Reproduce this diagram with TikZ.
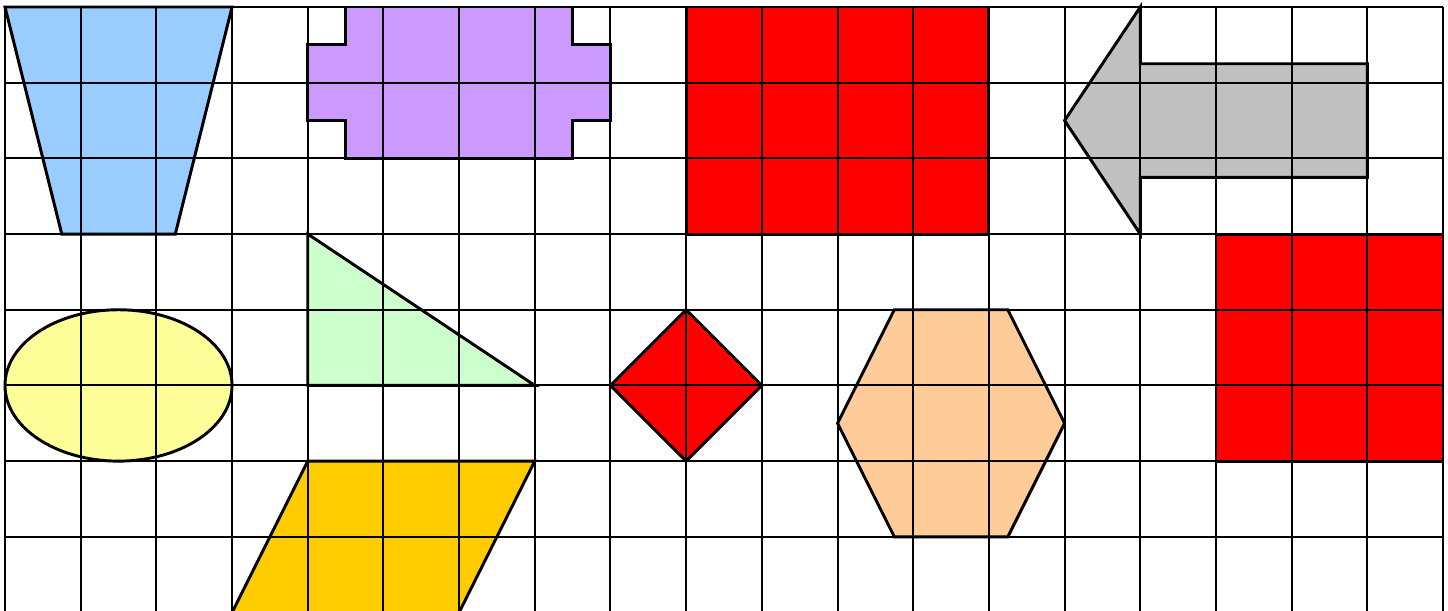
\documentclass[tikz,border=0pt]{standalone}
\begin{document}
\begin{tikzpicture}[x=1cm,y=-1cm,
  gridline/.style={line width=0.75pt,black},
  outl/.style={line width=1.1pt,black,line join=miter}]
\definecolor{cblue}{HTML}{99CCFF}
\definecolor{cpurple}{HTML}{CC99FF}
\definecolor{cgray}{HTML}{C0C0C0}
\definecolor{cyellow}{HTML}{FFFF99}
\definecolor{cgreen}{HTML}{CCFFCC}
\definecolor{corange}{HTML}{FFCC99}
\definecolor{cgold}{HTML}{FFCC00}
\useasboundingbox (-0.066,-0.0925) rectangle (19.066,7.98);
\clip (-0.066,-0.0925) rectangle (19.066,7.98);
\fill[white] (-0.066,-0.0925) rectangle (19.066,7.98);
% shape paths
\def\trap{(0,0) -- (3,0) -- (2.25,3) -- (0.75,3) -- cycle}
\def\cross{(4.5,0) -- (7.5,0) -- (7.5,0.5) -- (8,0.5) -- (8,1.5) -- (7.5,1.5) -- (7.5,2) -- (4.5,2) -- (4.5,1.5) -- (4,1.5) -- (4,0.5) -- (4.5,0.5) -- cycle}
\def\rectA{(9,0) rectangle (13,3)}
\def\arrowL{(14,1.5) -- (15,0) -- (15,0.75) -- (18,0.75) -- (18,2.25) -- (15,2.25) -- (15,3) -- cycle}
\def\rectB{(16,3) rectangle (19,6)}
\def\ell{(1.5,5) ellipse [x radius=1.5, y radius=1]}
\def\tri{(4,3) -- (4,5) -- (7,5) -- cycle}
\def\diam{(9,4) -- (10,5) -- (9,6) -- (8,5) -- cycle}
\def\hex{(11.75,4) -- (13.25,4) -- (14,5.5) -- (13.25,7) -- (11.75,7) -- (11,5.5) -- cycle}
\def\para{(4,6) -- (7,6) -- (6,8) -- (3,8) -- cycle}
% fills
\fill[cblue] \trap;
\fill[cpurple] \cross;
\fill[red] \rectA;
\fill[cgray] \arrowL;
\fill[red] \rectB;
\fill[cyellow] \ell;
\fill[cgreen] \tri;
\fill[red] \diam;
\fill[corange] \hex;
\fill[cgold] \para;
% grid
\foreach \i in {0,...,19} \draw[gridline] (\i,0) -- (\i,8.2);
\foreach \j in {0,...,7} \draw[gridline] (0,\j) -- (19,\j);
% outlines
\draw[outl] \trap;
\draw[outl] \cross;
\draw[outl] \rectA;
\draw[outl] \arrowL;
\draw[outl] \rectB;
\draw[outl] \ell;
\draw[outl] \tri;
\draw[outl] \diam;
\draw[outl] \hex;
\draw[outl] \para;
\end{tikzpicture}
\end{document}
